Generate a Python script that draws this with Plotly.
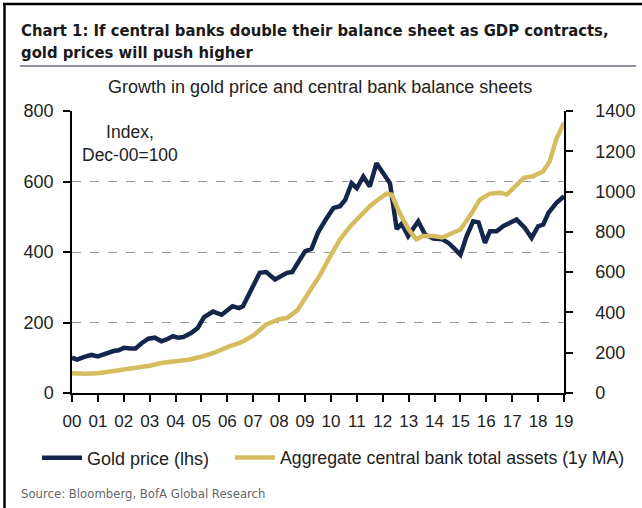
import plotly.graph_objects as go

# ---------------- data ----------------
gold_x = [2000.0, 2000.2, 2000.45, 2000.75, 2001.0, 2001.3, 2001.6, 2001.8, 2002.0, 2002.25,
          2002.45, 2002.7, 2002.95, 2003.2, 2003.45, 2003.65, 2003.9, 2004.1, 2004.3, 2004.6,
          2004.85, 2005.1, 2005.45, 2005.78, 2006.2, 2006.45, 2006.6, 2007.25, 2007.5, 2007.84,
          2008.3, 2008.5, 2009.0, 2009.25, 2009.5, 2009.8, 2010.1, 2010.35, 2010.55, 2010.8,
          2011.0, 2011.25, 2011.5, 2011.76, 2012.08, 2012.28, 2012.54, 2012.73, 2012.98, 2013.37,
          2013.63, 2013.95, 2014.3, 2014.55, 2014.75, 2015.0, 2015.24, 2015.49, 2015.7, 2015.95,
          2016.14, 2016.4, 2016.65, 2016.9, 2017.17, 2017.49, 2017.75, 2018.0, 2018.2, 2018.4,
          2018.7, 2019.0]
gold_price = [100, 95, 102, 108, 104, 113, 119, 121, 128, 126,
              126, 142, 154, 157, 147, 152, 161, 157, 159, 170,
              184, 215, 231, 222, 246, 241, 246, 341, 343, 322,
              341, 343, 402, 409, 455, 492, 525, 530, 548, 595,
              581, 614, 586, 652, 614, 595, 465, 480, 445, 487,
              450, 438, 436, 425, 411, 392, 445, 487, 484, 426,
              459, 459, 473, 482, 492, 468, 440, 473, 478, 511,
              539, 558]

cb_x = [2000.0, 2000.5, 2001.0, 2002.0, 2003.0, 2003.5, 2004.0, 2004.5, 2005.0, 2005.5,
        2006.0, 2006.5, 2007.0, 2007.5, 2008.0, 2008.3, 2008.7, 2009.2, 2009.6, 2010.0,
        2010.35, 2010.75, 2011.1, 2011.5, 2011.9, 2012.15, 2012.35, 2012.65, 2013.0, 2013.3,
        2013.55, 2013.95, 2014.3, 2014.6, 2015.0, 2015.4, 2015.75, 2016.15, 2016.55, 2016.8,
        2017.2, 2017.45, 2017.8, 2018.2, 2018.45, 2018.7, 2019.0]
cb_assets = [98, 95, 98, 115, 135, 150, 158, 165, 180, 200,
             228, 250, 285, 340, 366, 372, 410, 515, 590, 685,
             763, 828, 877, 927, 968, 990, 984, 894, 812, 763,
             779, 779, 772, 787, 812, 886, 960, 990, 994, 986,
             1035, 1068, 1076, 1101, 1151, 1259, 1342]

year_ticks = list(range(2000, 2020))
year_labels = ["00", "01", "02", "03", "04", "05", "06", "07", "08", "09",
               "10", "11", "12", "13", "14", "15", "16", "17", "18", "19"]
left_ticks = [0, 200, 400, 600, 800]
right_ticks = [0, 200, 400, 600, 800, 1000, 1200, 1400]

# ---------------- layout geometry ----------------
W, H = 642, 508
L, R, T, B = 72, 564, 111, 393   # plot area in pixels


def px(x):
    return (x - L) / (R - L)


def py(y):
    return (B - y) / (B - T)


NAVY = "#14264a"
GOLD = "#d7bc5f"
ARIAL = "Liberation Sans, Arial, sans-serif"
NARROW = "DejaVu Sans Condensed, sans-serif"

fig = go.Figure()
fig.add_trace(go.Scatter(x=gold_x, y=gold_price, mode="lines", name="Gold price (lhs)",
                         line=dict(color=NAVY, width=4.5), yaxis="y", legend="legend"))
fig.add_trace(go.Scatter(x=cb_x, y=cb_assets, mode="lines",
                         name="Aggregate central bank total assets (1y MA)",
                         line=dict(color=GOLD, width=4.5), yaxis="y2", legend="legend2"))

legend_common = dict(orientation="h", yanchor="middle", xanchor="left",
                     bgcolor="rgba(0,0,0,0)", itemwidth=40)

fig.update_layout(
    width=W, height=H,
    margin=dict(l=L, r=W - R, t=T, b=H - B, pad=0, autoexpand=False),
    paper_bgcolor="white", plot_bgcolor="white",
    font=dict(family=ARIAL, size=17, color="#222222"),
    xaxis=dict(range=[2000, 2019], tickvals=year_ticks, ticktext=year_labels,
               showgrid=False, zeroline=False, showline=True, linecolor="black", linewidth=1.5,
               ticks="outside", ticklen=7, tickwidth=1.5, tickcolor="black",
               tickfont=dict(size=17, color="#222222"), ticklabelstandoff=5),
    yaxis=dict(range=[0, 800], tickvals=left_ticks, showgrid=True, gridcolor="#9a9a9a",
               griddash="dash", gridwidth=1, zeroline=False, showline=True,
               linecolor="black", linewidth=1.5, ticks="outside", ticklen=7, tickwidth=1.5,
               tickcolor="black", tickfont=dict(size=18, color="#222222"), ticklabelstandoff=6),
    yaxis2=dict(range=[0, 1400], tickvals=right_ticks, overlaying="y", side="right",
                showgrid=False, zeroline=False, showline=True, linecolor="black", linewidth=1.5,
                ticks="outside", ticklen=7, tickwidth=1.5, tickcolor="black",
                tickfont=dict(size=18, color="#222222"), ticklabelstandoff=19),
    showlegend=True,
    legend=dict(x=px(37), y=py(458), font=dict(family=ARIAL, size=18, color="#222222"),
                **legend_common),
    legend2=dict(x=px(230), y=py(458), font=dict(family=ARIAL, size=17.7, color="#222222"),
                 **legend_common),
)

annotations = [
    dict(text="<b>Chart 1: If central banks double their balance sheet as GDP contracts,</b>",
         x=px(19), y=py(30), xanchor="left", yanchor="middle",
         font=dict(family=NARROW, size=16.5, color="#1a1a1a")),
    dict(text="<b>gold prices will push higher</b>",
         x=px(19), y=py(52), xanchor="left", yanchor="middle",
         font=dict(family=NARROW, size=16.5, color="#1a1a1a")),
    dict(text="Growth in gold price and central bank balance sheets",
         x=px(320), y=py(87), xanchor="center", yanchor="middle",
         font=dict(family=ARIAL, size=18, color="#222222")),
    dict(text="Index,<br>Dec-00=100", x=px(130), y=py(143), xanchor="center", yanchor="middle",
         align="center", font=dict(family=ARIAL, size=17.5, color="#222222")),
    dict(text="Source: Bloomberg, BofA Global Research",
         x=px(19), y=py(493), xanchor="left", yanchor="middle",
         font=dict(family=NARROW, size=13, color="#666666")),
]
for a in annotations:
    a.update(xref="paper", yref="paper", showarrow=False)
fig.update_layout(annotations=annotations)

shapes = [
    # title underline
    dict(type="line", x0=px(20), x1=px(636), y0=py(66), y1=py(66),
         line=dict(color="#6b7080", width=1.5)),
    # outer frame: top and left
    dict(type="line", x0=px(3), x1=px(642), y0=py(4), y1=py(4),
         line=dict(color="black", width=2.5)),
    dict(type="line", x0=px(4.5), x1=px(4.5), y0=py(3), y1=py(508),
         line=dict(color="black", width=2.5)),
]
for s in shapes:
    s.update(xref="paper", yref="paper")
fig.update_layout(shapes=shapes)

fig.write_html("out.html")
